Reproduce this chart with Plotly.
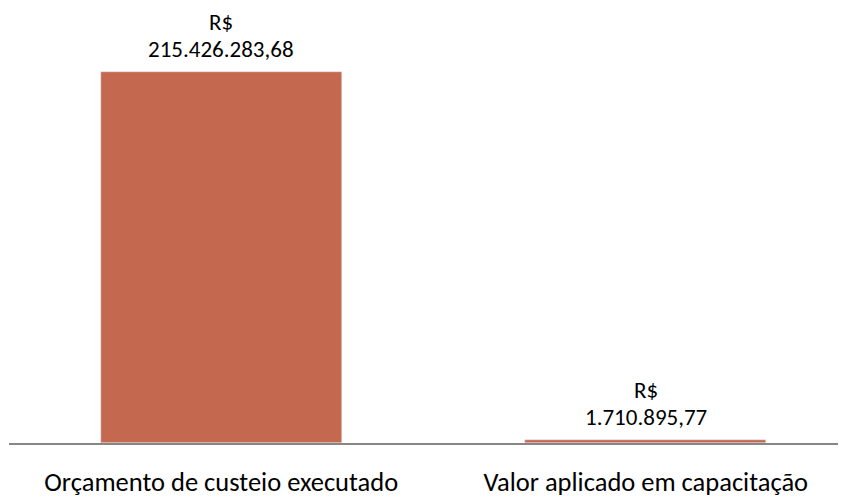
import plotly.graph_objects as go

categorias = ["Orçamento de custeio executado", "Valor aplicado em capacitação"]
valores = [215426283.68, 1710895.77]
rotulos = ["215.426.283,68", "1.710.895,77"]
moeda = "R$"

FONTE = "Carlito, Noto Sans, sans-serif"
COR_BARRA = "#C4694F"

fig = go.Figure()
fig.add_trace(go.Bar(
    x=categorias,
    y=valores,
    marker_color=COR_BARRA,
    width=0.568,
    showlegend=False,
))

# rotulos de dados em duas linhas (moeda em cima, valor embaixo)
for cat, val, rot in zip(categorias, valores, rotulos):
    fig.add_annotation(x=cat, y=val, text=rot, showarrow=False,
                       yanchor="bottom", yshift=7,
                       font=dict(family=FONTE, size=23, color="#000000"))
    fig.add_annotation(x=cat, y=val, text=moeda, showarrow=False,
                       yanchor="bottom", yshift=34,
                       font=dict(family=FONTE, size=23, color="#000000"))

fig.update_layout(
    width=846,
    height=500,
    margin=dict(l=1, r=0, t=0, b=65),
    plot_bgcolor="white",
    paper_bgcolor="white",
    bargap=0,
    xaxis=dict(
        range=[-0.5, 1.4906],
        showline=True,
        linecolor="#868686",
        linewidth=2,
        ticks="",
        ticklabelstandoff=14,
        tickfont=dict(family=FONTE, size=26.5, color="#000000"),
        showgrid=False,
    ),
    yaxis=dict(
        range=[0, 252.9e6],
        visible=False,
        showgrid=False,
        zeroline=False,
    ),
)

fig.write_html("out.html")
